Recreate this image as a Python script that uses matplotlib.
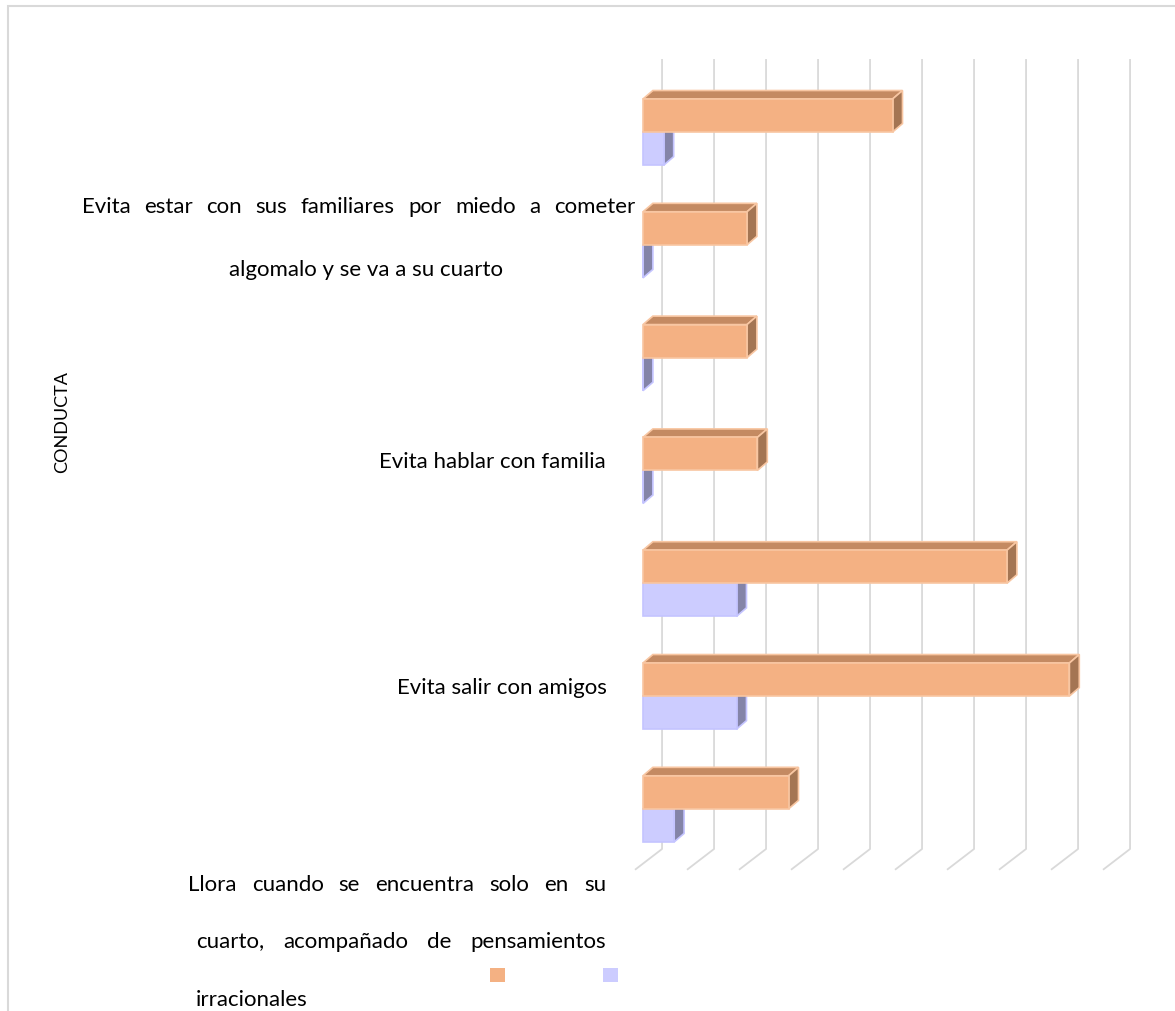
import numpy as np
import matplotlib
matplotlib.use("Agg")
import matplotlib.pyplot as plt
from matplotlib.patches import Polygon, Rectangle, Patch
from matplotlib.transforms import blended_transform_factory

plt.rcParams['font.family'] = ['Lato', 'DejaVu Sans']

# ------------------------------
# Datos (fila 0 = barra superior)
# ------------------------------
serie_a = [24, 10, 10, 11, 35, 41, 14]   # barras naranjas (%)
serie_b = [2, 0, 0, 0, 9, 9, 3]          # barras lilas (%)
escala = np.arange(0, 50, 5)             # lineas de division 0..45

titulo_eje = "CONDUCTA"
etiquetas = [
    "Evita estar con sus familiares por miedo a cometer",
    "algomalo y se va a su cuarto",
    "Evita hablar con familia",
    "Evita salir con amigos",
    "Llora cuando se encuentra solo en su",
    "cuarto, acompañado de pensamientos",
    "irracionales",
]

# colores: frente, techo, lateral, borde
naranja = ("#F4B183", "#C48A62", "#A47553", "#F8C6A2")
lila = ("#CCCCFF", "#A6A6CC", "#8484A8", "#C4C4FF")

W, H = 1175, 1012
fig = plt.figure(figsize=(W / 100, H / 100), dpi=100)
ax = fig.add_axes([600 / W, 1 - 880 / H, 560 / W, 830 / H])
ax.set_xlim(-4.135, 49.71)
ax.set_ylim(6.622, -0.736)
ax.axis("off")

# profundidad del efecto 3D (unidades de datos)
DX, DY = 0.95, 0.075
ALTO = 0.293
GRIS = "#D9D9D9"

# ------------------------------
# Pared del fondo y suelo
# ------------------------------
for v in escala:
    ax.plot([v + 1.83, v + 1.83, v - 0.77], [-0.647, 6.356, 6.54],
            color=GRIS, lw=1.3, solid_capstyle="butt", zorder=1)


def barra(y0, valor, colores, z):
    frente, techo, lado, borde = colores
    y1 = y0 + ALTO
    ax.add_patch(Polygon([(0, y0), (DX, y0 - DY), (valor + DX, y0 - DY), (valor, y0)],
                         closed=True, fc=techo, ec=borde, lw=1.2, zorder=z))
    ax.add_patch(Polygon([(valor, y0), (valor + DX, y0 - DY), (valor + DX, y1 - DY), (valor, y1)],
                         closed=True, fc=lado, ec=borde, lw=1.2, zorder=z))
    ax.add_patch(Rectangle((0, y0), valor, ALTO, fc=frente, ec=borde, lw=1.2, zorder=z))


for i, (a, b) in enumerate(zip(serie_a, serie_b)):
    barra(i, b, lila, 2 + 2 * i)
    barra(i - ALTO, a, naranja, 3 + 2 * i)

# ------------------------------
# Etiquetas de categoria
# ------------------------------
FS = 16
trans = blended_transform_factory(fig.transFigure, ax.transData)
renderer = fig.canvas.get_renderer()


def linea(texto, y, x0, x1=None, modo="left"):
    if modo != "justify":
        if modo == "left":
            xs = x0
        elif modo == "right":
            xs = x1
        else:
            xs = (x0 + x1) / 2
        ax.text(xs / W, y, texto, transform=trans, ha=modo, va="center",
                fontsize=FS, color="#000000", clip_on=False)
        return
    palabras = texto.split()
    objs = [ax.text(0, y, p, transform=trans, ha="left", va="center",
                    fontsize=FS, color="#000000", clip_on=False) for p in palabras]
    anchos = [t.get_window_extent(renderer).width for t in objs]
    hueco = (x1 - x0 - sum(anchos)) / (len(palabras) - 1)
    x = x0
    for t, w in zip(objs, anchos):
        t.set_x(x / W)
        x += w + hueco


linea(etiquetas[0], 0.656, 82, 635, "justify")
linea(etiquetas[1], 1.215, 220, 512, "center")
linea(etiquetas[2], 2.917, None, 606, "right")
linea(etiquetas[3], 4.92, None, 607, "right")
linea(etiquetas[4], 6.667, 188, 606, "justify")
linea(etiquetas[5], 7.172, 196, 606, "justify")
linea(etiquetas[6], 7.686, 196)

fig.text(62 / W, 1 - 422 / H, titulo_eje, rotation=90, ha="center", va="center",
         fontsize=13, color="#000000")

# leyenda sin texto
fig.legend(handles=[Patch(fc=naranja[0]), Patch(fc=lila[0])], labels=["", ""],
           ncol=2, loc="center", bbox_to_anchor=(554 / W, 1 - 977 / H),
           frameon=False, handlelength=1.0, handleheight=1.0, handletextpad=0.0,
           columnspacing=6.4, fontsize=11)

# marco del grafico
fig.add_artist(Rectangle((8 / W, -0.1), 1.2, 1.1 - 7 / H, transform=fig.transFigure,
                         fill=False, ec=GRIS, lw=1.5))

fig.savefig("out.png", dpi=100, facecolor="white")
